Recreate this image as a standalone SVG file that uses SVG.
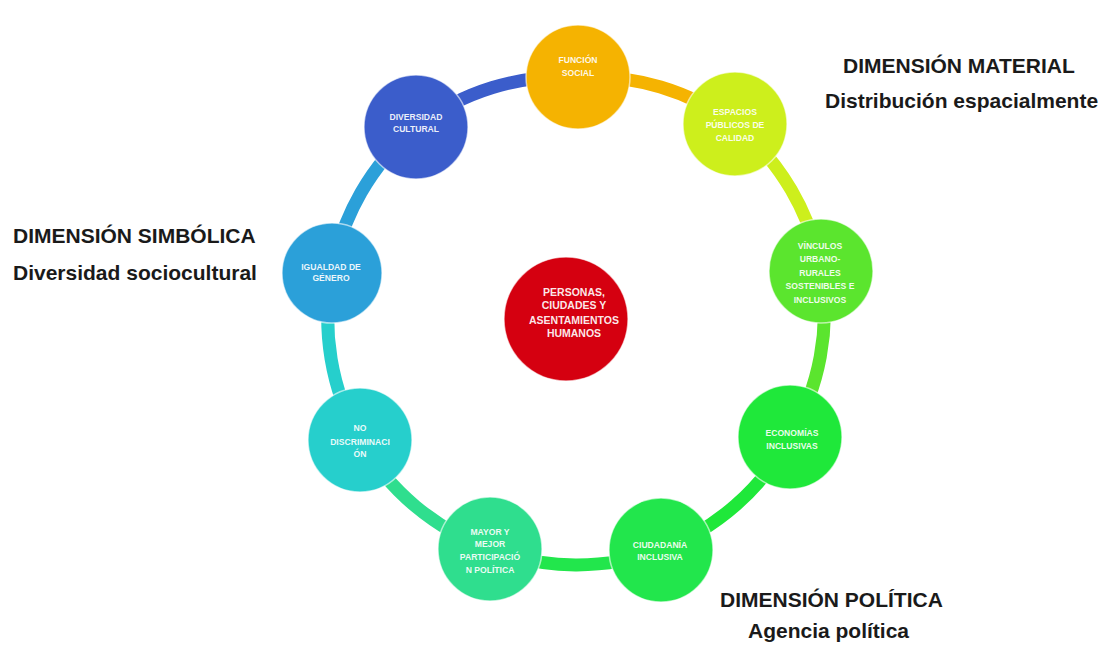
<svg xmlns="http://www.w3.org/2000/svg" width="1101" height="650" viewBox="0 0 1101 650">
<defs>
<style>
.c{fill:none;stroke-width:13;stroke-linecap:round}
.t{font-family:"Liberation Sans",Arial,sans-serif;font-size:8.6px;font-weight:bold;fill:#fff;fill-opacity:0.92;text-anchor:middle}
.tc{font-family:"Liberation Sans",Arial,sans-serif;font-size:10.5px;font-weight:bold;fill:#fff;fill-opacity:0.92;text-anchor:middle}
.h{font-family:"Liberation Sans",Arial,sans-serif;font-size:21px;font-weight:bold;fill:#1a1a1a}
.n{stroke:#fff;stroke-opacity:0.6;stroke-width:1.5}
</style>
</defs>
<rect width="1101" height="650" fill="#fff"/>
<g id="connectors">
<path class="c" stroke="#3B5DCB" d="M416 127 A245 245 0 0 1 578 77"/>
<path class="c" stroke="#F5B301" d="M578 77 A245 245 0 0 1 735 124"/>
<path class="c" stroke="#CDEF1C" d="M735 124 A245 245 0 0 1 821 271"/>
<path class="c" stroke="#5BE52E" d="M821 271 A245 245 0 0 1 790 437"/>
<path class="c" stroke="#1FE83A" d="M790 437 A245 245 0 0 1 661 550"/>
<path class="c" stroke="#22E64C" d="M661 550 A245 245 0 0 1 490 549"/>
<path class="c" stroke="#2FDE8E" d="M490 549 A245 245 0 0 1 360 440"/>
<path class="c" stroke="#26CFCC" d="M360 440 A245 245 0 0 1 332 273"/>
<path class="c" stroke="#2BA0D9" d="M332 273 A245 245 0 0 1 416 127"/>
</g>
<g id="center">
<circle class="n" cx="566" cy="319" r="62" fill="#D50010"/>
<text class="tc" x="574" y="296">PERSONAS,</text>
<text class="tc" x="574" y="309">CIUDADES Y</text>
<text class="tc" x="574" y="324">ASENTAMIENTOS</text>
<text class="tc" x="574" y="337">HUMANOS</text>
</g>
<g id="funcion-social">
<circle class="n" cx="578" cy="77" r="52" fill="#F5B301"/>
<text class="t" x="578" y="63">FUNCIÓN</text>
<text class="t" x="578" y="76">SOCIAL</text>
</g>
<g id="espacios-publicos">
<circle class="n" cx="735" cy="124" r="52" fill="#CDEF1C"/>
<text class="t" x="735" y="115">ESPACIOS</text>
<text class="t" x="735" y="128">PÚBLICOS DE</text>
<text class="t" x="735" y="141">CALIDAD</text>
</g>
<g id="vinculos">
<circle class="n" cx="821" cy="271" r="52" fill="#5BE52E"/>
<text class="t" x="820" y="249">VÍNCULOS</text>
<text class="t" x="820" y="262">URBANO-</text>
<text class="t" x="820" y="276">RURALES</text>
<text class="t" x="820" y="289">SOSTENIBLES E</text>
<text class="t" x="820" y="303">INCLUSIVOS</text>
</g>
<g id="economias">
<circle class="n" cx="790" cy="437" r="52" fill="#1FE83A"/>
<text class="t" x="792" y="436">ECONOMÍAS</text>
<text class="t" x="792" y="449">INCLUSIVAS</text>
</g>
<g id="ciudadania">
<circle class="n" cx="661" cy="550" r="52" fill="#22E64C"/>
<text class="t" x="660" y="548">CIUDADANÍA</text>
<text class="t" x="660" y="560">INCLUSIVA</text>
</g>
<g id="participacion">
<circle class="n" cx="490" cy="549" r="52" fill="#2FDE8E"/>
<text class="t" x="490" y="535">MAYOR Y</text>
<text class="t" x="490" y="547">MEJOR</text>
<text class="t" x="490" y="560">PARTICIPACIÓ</text>
<text class="t" x="490" y="573">N POLÍTICA</text>
</g>
<g id="no-discriminacion">
<circle class="n" cx="360" cy="440" r="52" fill="#26CFCC"/>
<text class="t" x="360" y="431">NO</text>
<text class="t" x="360" y="445">DISCRIMINACI</text>
<text class="t" x="360" y="457">ÓN</text>
</g>
<g id="igualdad">
<circle class="n" cx="332" cy="273" r="50" fill="#2BA0D9"/>
<text class="t" x="331" y="270">IGUALDAD DE</text>
<text class="t" x="331" y="281">GÉNERO</text>
</g>
<g id="diversidad">
<circle class="n" cx="416" cy="127" r="52" fill="#3B5DCB"/>
<text class="t" x="416" y="120">DIVERSIDAD</text>
<text class="t" x="416" y="132">CULTURAL</text>
</g>
<g id="labels">
<text class="h" x="843" y="73">DIMENSIÓN MATERIAL</text>
<text class="h" x="825" y="108">Distribución espacialmente</text>
<text class="h" x="13" y="243">DIMENSIÓN SIMBÓLICA</text>
<text class="h" x="13" y="280">Diversidad sociocultural</text>
<text class="h" x="720" y="607">DIMENSIÓN POLÍTICA</text>
<text class="h" x="748" y="638">Agencia política</text>
</g>
</svg>
